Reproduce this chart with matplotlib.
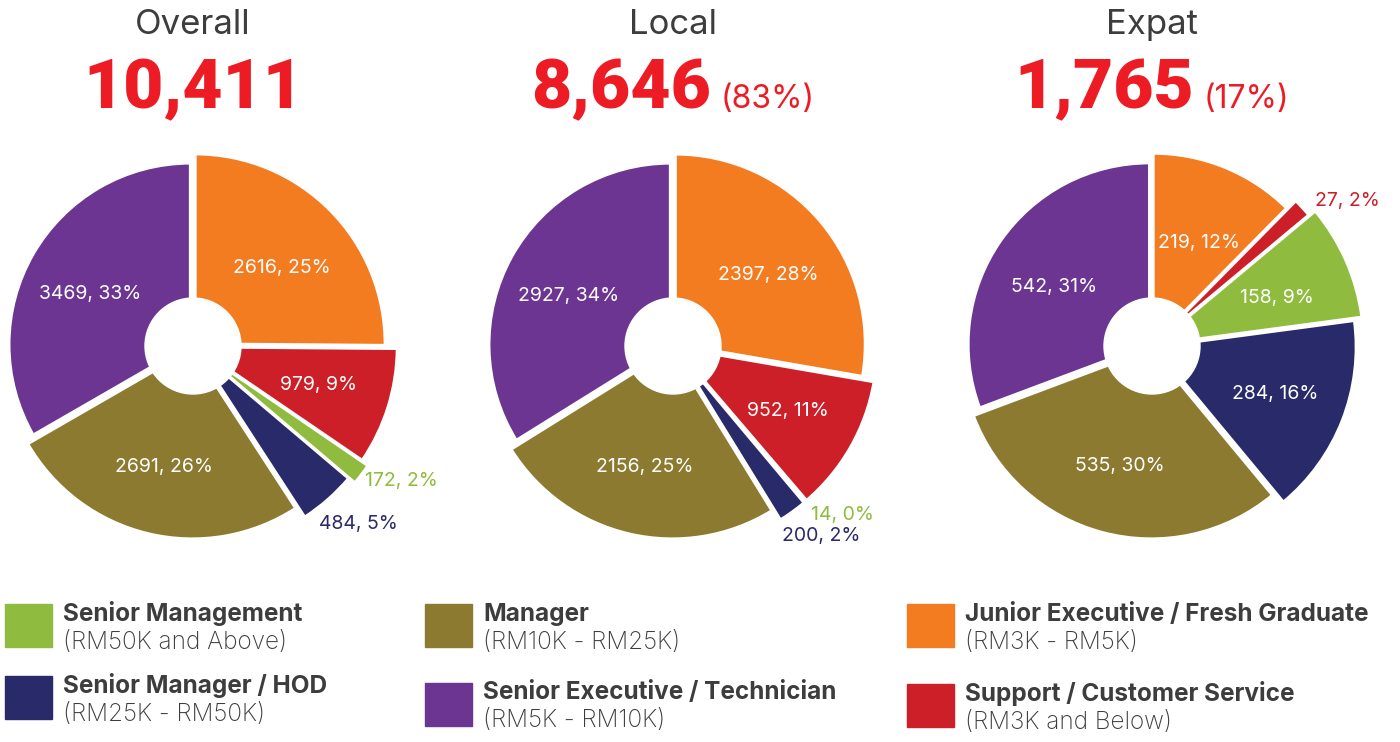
import matplotlib
matplotlib.use("Agg")
import numpy as np
import matplotlib.pyplot as plt
from matplotlib.patches import Rectangle, Circle

# slice order: clockwise from 12 o'clock
categories = ["Junior Executive / Fresh Graduate", "Support / Customer Service",
              "Senior Management", "Senior Manager / HOD", "Manager",
              "Senior Executive / Technician"]
ranges = ["(RM3K - RM5K)", "(RM3K and Below)", "(RM50K and Above)",
          "(RM25K - RM50K)", "(RM10K - RM25K)", "(RM5K - RM10K)"]
colors = ["#F37B20", "#CC1F28", "#8FBC3E", "#292A6A", "#8B7A2F", "#6C3592"]

groups = ["Overall", "Local", "Expat"]
overall = [2616, 979, 172, 484, 2691, 3469]
local = [2397, 952, 14, 200, 2156, 2927]
expat = [219, 27, 158, 284, 535, 542]
series = [overall, local, expat]

plt.rcParams["font.family"] = ["Inter", "DejaVu Sans"]
dark = "#3D3D3D"
red = "#ED1C24"

fig = plt.figure(figsize=(14, 7.42), dpi=100)
ax = fig.add_axes([0, 0, 1, 1])

centers = [193, 673, 1152]
cy = 346
R = 190
scales = [1.0, 1.06, 1.1, 1.06, 1.0, 0.955]
grand = sum(overall)

renderer = fig.canvas.get_renderer()

for cx, name, vals in zip(centers, groups, series):
    total = sum(vals)
    wedges, _, autotexts = ax.pie(
        vals, colors=colors, center=(cx, cy), radius=R,
        startangle=-90, counterclock=True, explode=[3] * 6,
        autopct=lambda p, t=total: f"{round(p * t / 100)}, {round(p)}%",
        wedgeprops=dict(edgecolor="white", linewidth=2.2),
        textprops=dict(fontsize=14, color="white"), frame=True)
    n_out = 0
    for w, s, at, v, c in zip(wedges, scales, autotexts, vals, colors):
        w.set_radius(R * s)
        mid = np.deg2rad((w.theta1 + w.theta2) / 2)
        x0, y0 = w.center
        if v / total < 0.06:
            # small slices: label outside, in slice colour
            a = mid + np.deg2rad(1 if n_out == 0 else 6)
            d = 1.15 * R
            x, y = cx + d * np.cos(a), cy + d * np.sin(a)
            n_out += 1
            at.set_color(c)
            at.set_ha("left")
        else:
            d = 0.64 * R * s
            x, y = x0 + d * np.cos(mid), y0 + d * np.sin(mid)
            y += max(0, 3 - 10 * np.sin(mid))
            at.set_ha("center")
        at.set_position((x, y))
        at.set_va("center")
    ax.add_patch(Circle((cx, cy), 48, color="white", zorder=5))

    ax.text(cx, 34, name, ha="center", va="baseline", fontsize=25, color=dark)
    num = ax.text(cx, 108, f"{total:,}", ha="center", va="baseline",
                  fontsize=50, fontweight="black", color=red,
                  family=["Roboto", "DejaVu Sans"])
    if total != grand:
        pct = ax.text(cx, 108, f"({round(total / grand * 100)}%)", ha="left",
                      va="baseline", fontsize=23, color=red)
        wn = num.get_window_extent(renderer).width
        wp = pct.get_window_extent(renderer).width
        gap = 9
        left = cx - (wn + gap + wp) / 2
        num.set_ha("left")
        num.set_x(left)
        pct.set_x(left + wn + gap)

ax.set_xlim(0, 1400)
ax.set_ylim(742, 0)
ax.set_aspect("equal")
ax.axis("off")

# legend
cols = [(5, [2, 3], [604, 676]), (425, [4, 5], [604, 683]), (907, [0, 1], [604, 684])]
for x, idxs, tops in cols:
    for i, top in zip(idxs, tops):
        ax.add_patch(Rectangle((x, top), 47, 43, color=colors[i]))
        ax.text(x + 58, top + 10, categories[i], ha="left", va="center",
                fontsize=17.5, fontweight="bold", color=dark)
        ax.text(x + 58, top + 38, ranges[i], ha="left", va="center",
                fontsize=17.5, fontweight="light", color=dark)

fig.savefig("out.png", dpi=100)
